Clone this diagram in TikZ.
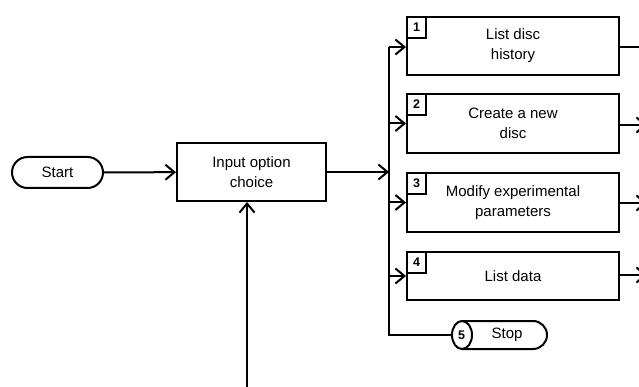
\documentclass[tikz,border=0pt]{standalone}
\usepackage{fontspec}
\setmainfont{Liberation Sans}
\usetikzlibrary{arrows.meta}

\begin{document}
\begin{tikzpicture}[x=1pt, y=-1pt, line width=2pt,
  flow/.style={-{Straight Barb[length=9pt, width=15pt]}},
  label/.style={font=\fontsize{15}{20}\selectfont, align=center},
  proc/.style={draw, rectangle, label, inner sep=0pt, minimum width=212pt},
  term/.style={draw, rectangle, label, rounded corners=15.5pt, minimum width=91pt, minimum height=31pt},
  tag/.style={draw, rectangle, anchor=north west, inner sep=0pt,
    minimum width=19pt, minimum height=21pt, font=\bfseries\fontsize{12.5}{12.5}\selectfont}]
  \useasboundingbox (0,0) rectangle (639,387);
  \clip (0,0) rectangle (639,387);

  % entry and menu choice
  \node[term] (start) at (57.5,172.5) {Start};
  \node[proc, minimum width=149pt, minimum height=58pt] (input) at (251.5,172) {Input option\\choice};

  % the four options
  \node[proc, minimum height=58pt] (opt1) at (513,46)    {List disc\\history};
  \node[proc, minimum height=59pt] (opt2) at (513,123.5) {Create a new\\disc};
  \node[proc, minimum height=59pt] (opt3) at (513,202.5) {Modify experimental\\parameters};
  \node[proc, minimum height=48pt] (opt4) at (513,276)   {List data};
  \node[tag] (t1) at (opt1.north west) {1};
  \node[tag] (t2) at (opt2.north west) {2};
  \node[tag] (t3) at (opt3.north west) {3};
  \node[tag] (t4) at (opt4.north west) {4};

  % option 5: stop terminal drawn as a lying cylinder
  \draw (462,335) ellipse [x radius=10, y radius=14];
  \draw (462,321) -- (533,321) arc[start angle=-90, end angle=90, x radius=14, y radius=14] -- (462,349);
  \node[font=\bfseries\fontsize{12.5}{12.5}\selectfont] (five) at (461.5,335.5) {5};
  \node[label] (stop) at (507,335) {Stop};
  \coordinate (stopin) at (452,335);

  % distribution bus
  \coordinate (bustop) at (389,47);
  \coordinate (busbot) at (389,335);
  \draw (bustop) -- (busbot) -- (stopin);

  % connectors
  \draw[flow] (start) -- (input);
  \draw[flow] (input.east) -- (input.east -| bustop);
  \draw[flow] (bustop) -- (bustop -| opt1.west);
  \draw[flow] (bustop |- opt2.west) -- (opt2.west);
  \draw[flow] (bustop |- opt3.west) -- (opt3.west);
  \draw[flow] (bustop |- opt4.west) -- (opt4.west);

  % return path from below
  \coordinate (back) at (247,392);
  \draw[flow] (back) -- (back |- input.south);

  % exits to the right
  \coordinate (x1) at (642,47);
  \coordinate (x2) at (647,125);
  \coordinate (x3) at (647,203);
  \coordinate (x4) at (647,275);
  \draw (opt1.east |- x1) -- (x1);
  \draw[flow] (opt2.east |- x2) -- (x2);
  \draw[flow] (opt3.east |- x3) -- (x3);
  \draw[flow] (opt4.east |- x4) -- (x4);
\end{tikzpicture}
\end{document}
